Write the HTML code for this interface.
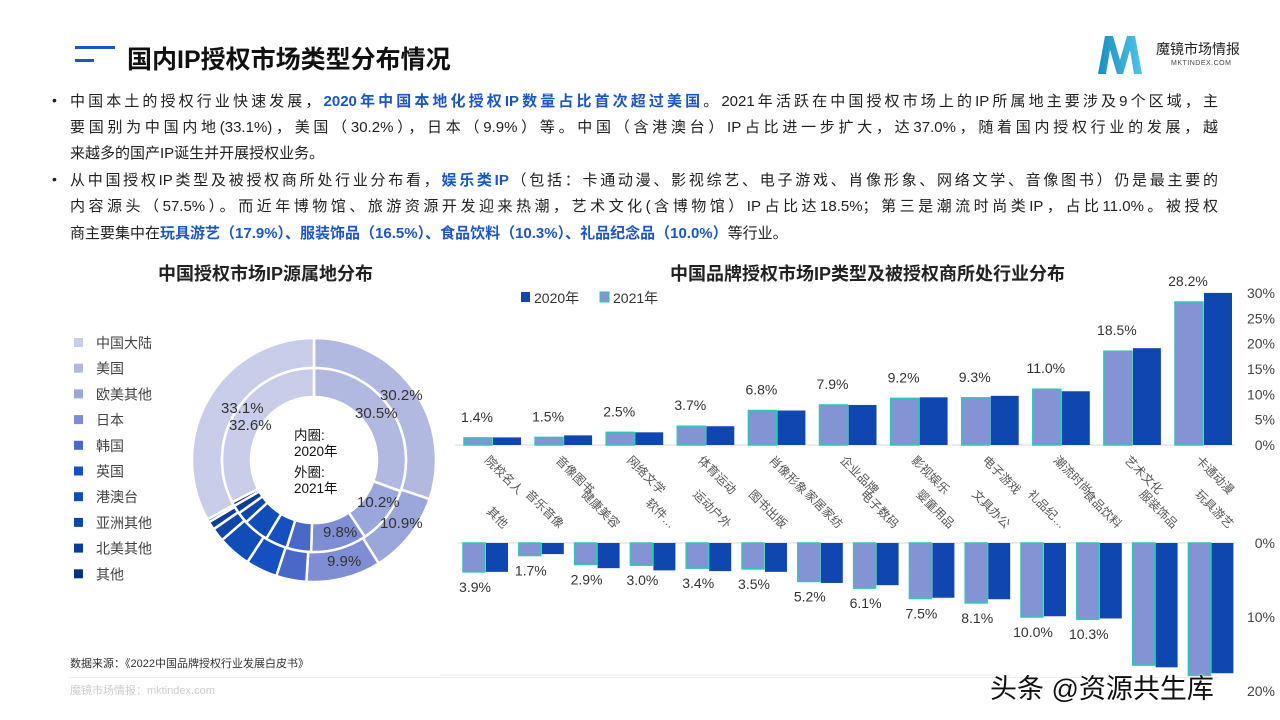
<!DOCTYPE html>
<html><head><meta charset="utf-8">
<style>
body{margin:0;width:1280px;height:720px;overflow:hidden;background:#fff;font-family:"Liberation Sans","Noto Sans CJK SC",sans-serif;position:relative;color:#222}
.abs{position:absolute}
.ln{position:absolute;left:70px;width:1148px;font-size:15px;line-height:20px;white-space:nowrap;text-align:justify;text-align-last:justify;text-justify:inter-character}
.ln.last{text-align-last:left}
.b{color:#1a56c8;font-weight:bold}
.bul{position:absolute;left:52px;font-size:14px}
</style></head><body>
<div class="abs" style="left:75px;top:46px;width:40px;height:3px;background:#1a56c8"></div>
<div class="abs" style="left:75px;top:59px;width:19px;height:3px;background:#1a56c8"></div>
<div class="abs" style="left:127px;top:40px;font-size:25px;font-weight:bold;color:#111">国内IP授权市场类型分布情况</div>
<div class="abs" style="left:1095px;top:32px;width:50px;height:44px">
<svg width="50" height="44"><defs><linearGradient id="lg" x1="0" x2="1"><stop offset="0" stop-color="#1a8fc0"/><stop offset="1" stop-color="#4fc3e8"/></linearGradient></defs><path d="M3 42 L10 4 L18 4 L25 28 L32 4 L40 4 L47 42 L39 42 L35 18 L28 42 L22 42 L15 18 L11 42Z" fill="url(#lg)"/></svg></div>
<div class="abs" style="left:1156px;top:39px;font-size:14px;color:#222">魔镜市场情报</div>
<div class="abs" style="left:1171px;top:60px;font-size:7px;color:#444;letter-spacing:0.5px">MKTINDEX.COM</div>

<div class="bul" style="top:92px">•</div>
<div>
<div class="ln" style="top:92px">中国本土的授权行业快速发展，<span class="b">2020年中国本地化授权IP数量占比首次超过美国</span>。2021年活跃在中国授权市场上的IP所属地主要涉及9个区域，主</div>
<div class="ln" style="top:118px">要国别为中国内地(33.1%)，美国（30.2%），日本（9.9%）等。中国（含港澳台）IP占比进一步扩大，达37.0%，随着国内授权行业的发展，越</div>
<div class="ln last" style="top:144px">来越多的国产IP诞生并开展授权业务。</div>
</div>
<div class="bul" style="top:171px">•</div>
<div>
<div class="ln" style="top:171px">从中国授权IP类型及被授权商所处行业分布看，<span class="b">娱乐类IP</span>（包括：卡通动漫、影视综艺、电子游戏、肖像形象、网络文学、音像图书）仍是最主要的</div>
<div class="ln" style="top:197px">内容源头（57.5%）。而近年博物馆、旅游资源开发迎来热潮，艺术文化(含博物馆）IP占比达18.5%；第三是潮流时尚类IP，占比11.0%。被授权</div>
<div class="ln last" style="top:224px">商主要集中在<span class="b">玩具游艺（17.9%）、服装饰品（16.5%）、食品饮料（10.3%）、礼品纪念品（10.0%）</span>等行业。</div>
</div>

<div class="abs" style="left:158px;top:260px;font-size:18px;font-weight:bold">中国授权市场IP源属地分布</div>
<div class="abs" style="left:670px;top:260px;font-size:18px;font-weight:bold">中国品牌授权市场IP类型及被授权商所处行业分布</div>

<svg class="abs" style="left:0;top:0" width="1280" height="720" id="svg"></svg>

<div class="abs" style="left:70px;top:655px;font-size:11px;color:#333">数据来源：《2022中国品牌授权行业发展白皮书》</div>
<div class="abs" style="left:68px;top:677px;width:1150px;height:1px;background:#eee"></div>
<div class="abs" style="left:70px;top:682px;font-size:11px;color:#ccc">魔镜市场情报：mktindex.com</div>
<div class="abs" style="left:990px;top:667px;font-size:27px;color:#111;text-shadow:0 0 2px #fff,0 0 2px #fff">头条 @资源共生库</div>

<script>
const regions=["中国大陆","美国","欧美其他","日本","韩国","英国","港澳台","亚洲其他","北美其他","其他"];
const outer2021=[33.1,30.2,10.9,9.9,4.0,4.2,4.4,1.8,1.1,0.4];
const inner2020=[32.6,30.5,10.2,9.8,4.3,3.9,4.5,2.0,1.5,0.7];
const topCats=["院校名人","音像图书","网络文学","体育运动","肖像形象","企业品牌","影视娱乐","电子游戏","潮流时尚","艺术文化","卡通动漫"];
const top2021=[1.4,1.5,2.5,3.7,6.8,7.9,9.2,9.3,11.0,18.5,28.2];
const top2020=[1.5,1.9,2.5,3.7,6.8,7.9,9.4,9.7,10.6,19.1,30.0];
const topTicks=[0,5,10,15,20,25,30];
const botCats=["其他","音乐音像","健康美容","软件…","运动户外","图书出版","家居家纺","电子数码","婴童用品","文具办公","礼品纪…","食品饮料","服装饰品","玩具游艺"];
const bot2021=[3.9,1.7,2.9,3.0,3.4,3.5,5.2,6.1,7.5,8.1,10.0,10.3,16.5,17.9];
const bot2020=[3.9,1.5,3.4,3.7,3.8,3.9,5.4,5.7,7.4,7.6,9.9,10.2,16.8,17.6];
const botTicks=[0,10,20];

const colors=["#c8cde9","#b1b9e0","#9ba6da","#7f8ed4","#4a68c8","#1550c0","#0f4db8","#1046a8","#0d3d98","#0a3080"];
const svg=document.getElementById('svg');
const NS="http://www.w3.org/2000/svg";
function mk(t,a,p){const e=document.createElementNS(NS,t);for(const k in a)e.setAttribute(k,a[k]);(p||svg).appendChild(e);return e;}
function txt(x,y,s,a){const e=mk('text',Object.assign({x:x,y:y,'font-size':14,fill:'#333','font-family':'"Liberation Sans","Noto Sans CJK SC",sans-serif'},a||{}));e.textContent=s;return e;}

// donut
const cx=314,cy=460;
function arc(r0,r1,a0,a1){const p=(r,a)=>[cx+r*Math.sin(a),cy-r*Math.cos(a)];const l=(a1-a0)>Math.PI?1:0;
 const [x0,y0]=p(r1,a0),[x1,y1]=p(r1,a1),[x2,y2]=p(r0,a1),[x3,y3]=p(r0,a0);
 return `M${x0},${y0}A${r1},${r1} 0 ${l} 1 ${x1},${y1}L${x2},${y2}A${r0},${r0} 0 ${l} 0 ${x3},${y3}Z`;}
function ring(vals,r0,r1,name){const tot=vals.reduce((a,b)=>a+b,0);const order=[1,2,3,4,5,6,7,8,9,0];let a=0;
 order.forEach(i=>{const s=vals[i]/tot*2*Math.PI;const e=mk('path',{d:arc(r0,r1,a,a+s),fill:colors[i],stroke:'#fff','stroke-width':2.5});
 
 
 a+=s;});}
ring(outer2021,92,122,'outer-2021');
ring(inner2020,63,92,'inner-2020');
txt(221,413,"33.1%",{'font-size':15});txt(229,430,"32.6%",{'font-size':15});
txt(380,400,"30.2%",{'font-size':15});txt(355,418,"30.5%",{'font-size':15});
txt(357,507,"10.2%",{'font-size':15});txt(380,528,"10.9%",{'font-size':15});
txt(323,537,"9.8%",{'font-size':15});txt(327,566,"9.9%",{'font-size':15});
[["内圈:",440],["2020年",456],["外圈:",477],["2021年",493]].forEach(t=>txt(294,t[1],t[0],{'font-size':13.5,fill:'#111'}));
regions.forEach((r,i)=>{const y=343+i*25.7;const g=mk('g',{});
 
 mk('rect',{x:74,y:y-5,width:9,height:9,fill:colors[i]},g);
 const t=txt(96,y+5,r,{'font-size':14,fill:'#444'});g.appendChild(t);});

// top bar chart
const y0=445,pxPer=5.07,g0=464,gs=71.1,bw=28;
const yT=v=>y0-v*pxPer;
mk('line',{x1:455,x2:1235,y1:y0,y2:y0,stroke:'#d9d9d9'});
topCats.forEach((c,i)=>{const x=g0+i*gs;
 const a=mk('rect',{x:x,y:yT(top2021[i]),width:bw,height:top2021[i]*pxPer,fill:'#8493d3',stroke:'#2cc7b5','stroke-width':1.5});
 
 const b=mk('rect',{x:x+bw+1,y:yT(top2020[i]),width:bw,height:top2020[i]*pxPer,fill:'#1046b0'});
 
 txt(x+13,yT(top2021[i])-16,top2021[i].toFixed(1)+"%",{'font-size':14,'text-anchor':'middle'});
 txt(0,0,c,{'font-size':12,fill:'#555',transform:`translate(${x+20},${y0+16}) rotate(45)`});
});
topTicks.forEach(t=>txt(1275,yT(t)+5,t+"%",{'font-size':14,'text-anchor':'end',fill:'#444'}));
mk('rect',{x:521,y:292,width:9,height:10,fill:'#1046b0'});txt(534,303,"2020年",{'font-size':14});
mk('rect',{x:600,y:292,width:9,height:10,fill:'#8493d3',stroke:'#2cc7b5'});txt(613,303,"2021年",{'font-size':14});

// bottom bar chart
const b0=543,bp=7.4,bg0=463,bgs=55.8,bbw=22;
const yB=v=>b0+v*bp;
mk('line',{x1:458,x2:1236,y1:b0,y2:b0,stroke:'#d9d9d9'});
mk('line',{x1:440,x2:1010,y1:675,y2:675,stroke:'#eee'});
botCats.forEach((c,i)=>{const x=bg0+i*bgs;
 const a=mk('rect',{x:x,y:b0,width:bbw,height:bot2021[i]*bp,fill:'#8493d3',stroke:'#2cc7b5','stroke-width':1.5});
 
 const b=mk('rect',{x:x+bbw+1,y:b0,width:bbw,height:bot2020[i]*bp,fill:'#1046b0'});
 
 if(i<12)txt(x+12,yB(bot2021[i])+20,bot2021[i].toFixed(1)+"%",{'font-size':14,'text-anchor':'middle'});
 txt(0,0,c,{'font-size':12,fill:'#555','text-anchor':'end',transform:`translate(${x+40},${b0-14}) rotate(45)`});
});
botTicks.forEach(t=>txt(1275,yB(t)+5,t+"%",{'font-size':14,'text-anchor':'end',fill:'#444'}));
</script>
</body></html>
